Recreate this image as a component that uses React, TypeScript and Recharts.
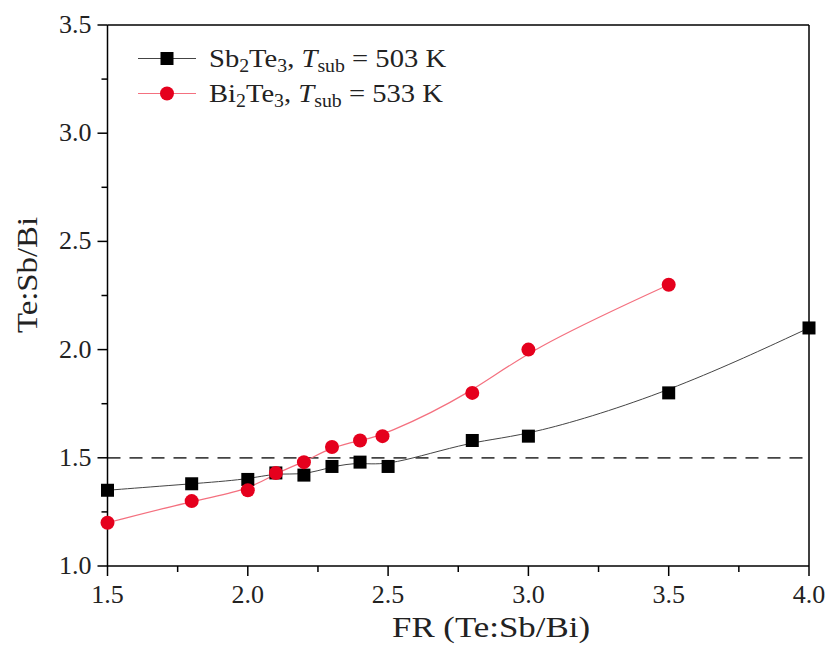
import {
    LineChart,
    Line,
    XAxis,
    YAxis,
    ReferenceLine,
    Legend,
} from 'recharts'

const sbX = [1.5, 1.8, 2.0, 2.1, 2.2, 2.3, 2.4, 2.5, 2.8, 3.0, 3.5, 4.0]
const sbY = [1.35, 1.38, 1.4, 1.43, 1.42, 1.46, 1.48, 1.46, 1.58, 1.6, 1.8, 2.1]

const biX = [1.5, 1.8, 2.0, 2.1, 2.2, 2.3, 2.4, 2.48, 2.8, 3.0, 3.5]
const biY = [1.2, 1.3, 1.35, 1.43, 1.48, 1.55, 1.58, 1.6, 1.8, 2.0, 2.3]

const xTicks = [1.5, 1.75, 2.0, 2.25, 2.5, 2.75, 3.0, 3.25, 3.5, 3.75, 4.0]
const yTicks = [1.0, 1.25, 1.5, 1.75, 2.0, 2.25, 2.5, 2.75, 3.0, 3.25, 3.5]

const threshold = 1.5

const sbData = sbX.map((x, i) => ({ x, y: sbY[i] }))
const biData = biX.map((x, i) => ({ x, y: biY[i] }))

const FONT = '"Liberation Serif", "Times New Roman", serif'
const TEXT = '#222'
const RED = '#e5001d'
const RED_LINE = '#f4707f'

const isMajor = (v: number) => Math.abs(v * 2 - Math.round(v * 2)) < 1e-6

const XTick = (props: any) => {
    const { x, y, payload } = props
    const major = isMajor(payload.value)
    return (
        <g>
            <line x1={x} y1={y} x2={x} y2={y + (major ? 10 : 6)} stroke="#000" strokeWidth={1.5} />
            {major && (
                <text x={x} y={y + 37} textAnchor="middle" fontSize={26} fontFamily={FONT} fill={TEXT}>
                    {payload.value.toFixed(1)}
                </text>
            )}
        </g>
    )
}

const YTick = (props: any) => {
    const { x, y, payload } = props
    const major = isMajor(payload.value)
    return (
        <g>
            <line x1={x} y1={y} x2={x - (major ? 10 : 6)} y2={y} stroke="#000" strokeWidth={1.5} />
            {major && (
                <text x={x - 16} y={y + 8} textAnchor="end" fontSize={26} fontFamily={FONT} fill={TEXT}>
                    {payload.value.toFixed(1)}
                </text>
            )}
        </g>
    )
}

const SquareDot = (props: any) => {
    const { cx, cy, index } = props
    return <rect key={`sq-${index}`} x={cx - 6.5} y={cy - 6.5} width={13} height={13} fill="#000" />
}

const LegendBox = () => {
    const row = { display: 'flex', alignItems: 'center', height: 35 }
    const txt = {
        display: 'inline-block',
        marginLeft: 13,
        fontSize: 26,
        fontFamily: FONT,
        color: TEXT,
        whiteSpace: 'nowrap' as const,
        transform: 'scaleX(1.1)',
        transformOrigin: 'left center',
    }
    const sub = { fontSize: 18, verticalAlign: '-0.3em', lineHeight: 0 }
    return (
        <div>
            <div style={row}>
                <svg width={58} height={35}>
                    <line x1={0} y1={17.5} x2={58} y2={17.5} stroke="#444" strokeWidth={1} />
                    <rect x={22.5} y={11} width={13} height={13} fill="#000" />
                </svg>
                <span style={txt}>
                    Sb<span style={sub}>2</span>Te<span style={sub}>3</span>, <i>T</i>
                    <span style={sub}>sub</span> = 503 K
                </span>
            </div>
            <div style={row}>
                <svg width={58} height={35}>
                    <line x1={0} y1={17.5} x2={58} y2={17.5} stroke={RED_LINE} strokeWidth={1} />
                    <circle cx={29} cy={17.5} r={7} fill={RED} />
                </svg>
                <span style={txt}>
                    Bi<span style={sub}>2</span>Te<span style={sub}>3</span>, <i>T</i>
                    <span style={sub}>sub</span> = 533 K
                </span>
            </div>
        </div>
    )
}

export default function App() {
    return (
        <div style={{ position: 'absolute', left: 0, top: 0, width: 838, height: 652, background: '#fff' }}>
            <LineChart width={838} height={652} margin={{ top: 25, right: 29, left: 0, bottom: 0 }}>
                <XAxis
                    dataKey="x"
                    type="number"
                    domain={[1.5, 4.0]}
                    ticks={xTicks}
                    interval={0}
                    allowDuplicatedCategory={false}
                    height={86}
                    tickSize={0}
                    tickMargin={0}
                    tickLine={false}
                    axisLine={{ stroke: '#000', strokeWidth: 1.5 }}
                    tick={<XTick />}
                    label={{
                        content: () => (
                            <text
                                x={392}
                                y={637}
                                fontSize={30}
                                fontFamily={FONT}
                                fill={TEXT}
                                textLength={198}
                                lengthAdjust="spacingAndGlyphs"
                            >
                                FR (Te:Sb/Bi)
                            </text>
                        ),
                    }}
                />
                <YAxis
                    type="number"
                    domain={[1.0, 3.5]}
                    ticks={yTicks}
                    interval={0}
                    width={107.5}
                    tickSize={0}
                    tickMargin={0}
                    tickLine={false}
                    axisLine={{ stroke: '#000', strokeWidth: 1.5 }}
                    tick={<YTick />}
                    label={{
                        content: () => (
                            <text
                                x={37}
                                y={333}
                                transform="rotate(-90 37 333)"
                                fontSize={30}
                                fontFamily={FONT}
                                fill={TEXT}
                                textLength={116}
                                lengthAdjust="spacingAndGlyphs"
                            >
                                Te:Sb/Bi
                            </text>
                        ),
                    }}
                />
                <ReferenceLine y={3.5} stroke="#000" strokeWidth={1.5} />
                <ReferenceLine x={4.0} stroke="#000" strokeWidth={1.5} />
                <ReferenceLine
                    y={threshold}
                    stroke="#444"
                    strokeWidth={1.8}
                    strokeDasharray="13 9"
                    segment={[{ x: 1.5, y: threshold }, { x: 3.97, y: threshold }]}
                />
                <Legend
                    layout="vertical"
                    align="center"
                    verticalAlign="middle"
                    content={<LegendBox />}
                    wrapperStyle={{ top: 41, left: 138, width: 400 }}
                />
                <Line
                    data={sbData}
                    dataKey="y"
                    type="basis"
                    stroke="#444"
                    strokeWidth={1}
                    dot={<SquareDot />}
                    activeDot={false}
                    isAnimationActive={false}
                />
                <Line
                    data={biData}
                    dataKey="y"
                    type="basis"
                    stroke={RED_LINE}
                    strokeWidth={1.2}
                    dot={{ r: 7, fill: RED, stroke: 'none' }}
                    activeDot={false}
                    isAnimationActive={false}
                />
            </LineChart>
        </div>
    )
}
